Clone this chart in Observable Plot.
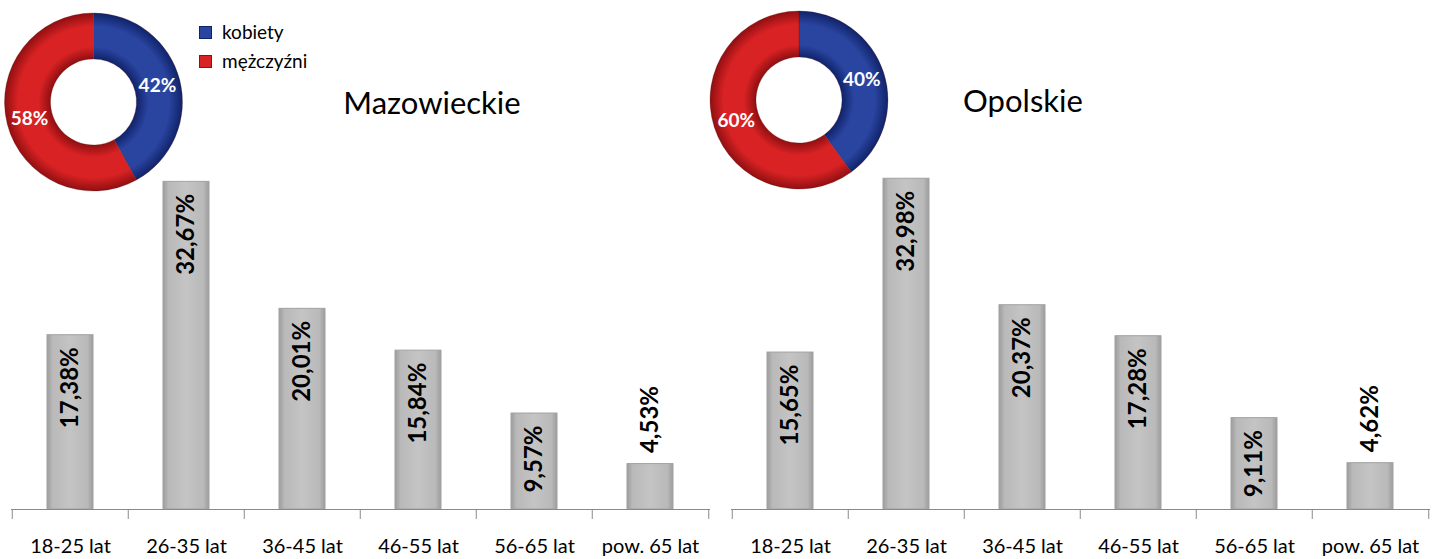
<!DOCTYPE html>
<html><head><meta charset="utf-8">
<script src="https://cdn.jsdelivr.net/npm/d3@7"></script>
<script src="https://cdn.jsdelivr.net/npm/@observablehq/plot@0.6"></script>
<style>
body{margin:0;background:#fff;}
#chart{position:relative;width:1435px;height:559px;font-family:Lato, "Open Sans", sans-serif;overflow:hidden;}
.panel{position:absolute;top:0;}
.title{position:absolute;font-size:31px;color:#000;transform:translateX(-50%);white-space:nowrap;}
.legend{position:absolute;left:199px;top:17px;font-size:19px;line-height:29px;color:#000;}
.legend .sw{display:inline-block;width:11px;height:11px;margin-right:10px;vertical-align:0px;}
</style></head><body><div id="chart"></div>
<script>
const ageGroups = ["18-25 lat","26-35 lat","36-45 lat","46-55 lat","56-65 lat","pow. 65 lat"];
const mazowieckieValues = [17.38,32.67,20.01,15.84,9.57,4.53];
const opolskieValues = [15.65,32.98,20.37,17.28,9.11,4.62];
const genders = ["kobiety","mężczyźni"];
const mazowieckieGender = [42,58];
const opolskieGender = [40,60];
const regionNames = ["Mazowieckie","Opolskie"];
const genderColors = [["#10236a","#2a45a0"],["#900f11","#d82224"]];

const chart = document.getElementById("chart");
const fmt = v => v.toFixed(2).replace(".", ",") + "%";

function donutMark(id, shares, cx, cy) {
  return () => {
    const rOuter = 89, rInner = 43;
    const g = d3.create("svg:g");
    const defs = g.append("defs");
    genderColors.forEach((c, i) => {
      const rg = defs.append("radialGradient").attr("id", `${id}-g${i}`)
        .attr("gradientUnits", "userSpaceOnUse").attr("cx", 0).attr("cy", 0).attr("r", rOuter);
      rg.append("stop").attr("offset", rInner / rOuter).attr("stop-color", c[0]);
      rg.append("stop").attr("offset", 0.62).attr("stop-color", c[1]);
      rg.append("stop").attr("offset", 0.85).attr("stop-color", c[1]);
      rg.append("stop").attr("offset", 1).attr("stop-color", c[0]);
    });
    const pie = d3.pie().sort(null)(shares);
    const arc = d3.arc().innerRadius(rInner).outerRadius(rOuter);
    const gg = g.append("g").attr("transform", `translate(${cx},${cy})`);
    gg.selectAll("path").data(pie).join("path")
      .attr("d", arc).attr("fill", (d, i) => `url(#${id}-g${i})`)
      .attr("stroke", "#5a1010").attr("stroke-opacity", 0.35).attr("stroke-width", 0.8);
    gg.selectAll("text").data(pie).join("text")
      .attr("transform", d => `translate(${arc.centroid(d)})`)
      .attr("text-anchor", "middle").attr("dy", "0.35em")
      .attr("fill", "#fff").attr("font-weight", "bold").attr("font-size", 19)
      .attr("font-family", "Lato, sans-serif")
      .text(d => d.data + "%");
    return g.node();
  };
}

function gradMark(id) {
  return () => {
    const g = d3.create("svg:g");
    const lg = g.append("defs").append("linearGradient").attr("id", id)
      .attr("x1", 0).attr("x2", 1).attr("y1", 0).attr("y2", 0);
    [[0, "#9c9c9c"], [0.12, "#b9b9b9"], [0.5, "#c4c4c4"], [0.88, "#b9b9b9"], [1, "#9c9c9c"]]
      .forEach(([o, c]) => lg.append("stop").attr("offset", o).attr("stop-color", c));
    return g.node();
  };
}

function panel(idx, values, gender, left, width, marginRight, donutCx, donutCy) {
  const data = ageGroups.map((a, i) => ({age: a, value: values[i]}));
  const id = "p" + idx;
  const step = (width - 11 - marginRight) / ageGroups.length;
  const p = Plot.plot({
    width, height: 559,
    marginLeft: 11, marginRight, marginTop: 158, marginBottom: 50,
    style: {fontFamily: "Lato, sans-serif", fontSize: "20px", color: "#000", background: "transparent", overflow: "visible"},
    x: {domain: ageGroups, paddingInner: 0.6, paddingOuter: 0.3, label: null},
    y: {domain: [0, 35], axis: null},
    marks: [
      gradMark(id + "-bar"),
      Plot.barY(data, {x: "age", y: "value", fill: `url(#${id}-bar)`, stroke: "#a2a2a2", strokeWidth: 1}),
      Plot.ruleY([0], {stroke: "#8a8a8a"}),
      Plot.ruleX(ageGroups, {x: d => d, y1: 0, y2: -1, dx: -step / 2, stroke: "#8a8a8a"}),
      Plot.ruleX(ageGroups.slice(-1), {x: d => d, y1: 0, y2: -1, dx: step / 2, stroke: "#8a8a8a"}),
      Plot.axisX({tickSize: 0, tickPadding: 29, fontSize: 20, label: null}),
      Plot.text(data.filter(d => d.value > 7), {x: "age", y: "value", text: d => fmt(d.value), rotate: -90,
        textAnchor: "end", dy: 12, fontWeight: "bold", fontSize: 24, fill: "#000"}),
      Plot.text(data.filter(d => d.value <= 7), {x: "age", y: "value", text: d => fmt(d.value), rotate: -90,
        textAnchor: "start", dy: -11, fontWeight: "bold", fontSize: 24, fill: "#000"}),
      donutMark(id + "-donut", gender, donutCx, donutCy)
    ]
  });
  p.classList.add("panel");
  p.style.left = left + "px";
  chart.appendChild(p);
}

panel(0, mazowieckieValues, mazowieckieGender, 0, 720, 10, 93.5, 102);
panel(1, opolskieValues, opolskieGender, 720, 715, 5, 79, 100);

const titlePos = [[432, 83], [1023, 81]];
regionNames.forEach((n, i) => {
  const t = document.createElement("div");
  t.className = "title";
  t.textContent = n;
  t.style.left = titlePos[i][0] + "px";
  t.style.top = titlePos[i][1] + "px";
  chart.appendChild(t);
});

const legend = document.createElement("div");
legend.className = "legend";
legend.innerHTML = genders.map((g, i) =>
  `<div><span class="sw" style="background:${genderColors[i][1]};border:1px solid ${genderColors[i][0]}"></span>${g}</div>`).join("");
chart.appendChild(legend);
</script></body></html>
